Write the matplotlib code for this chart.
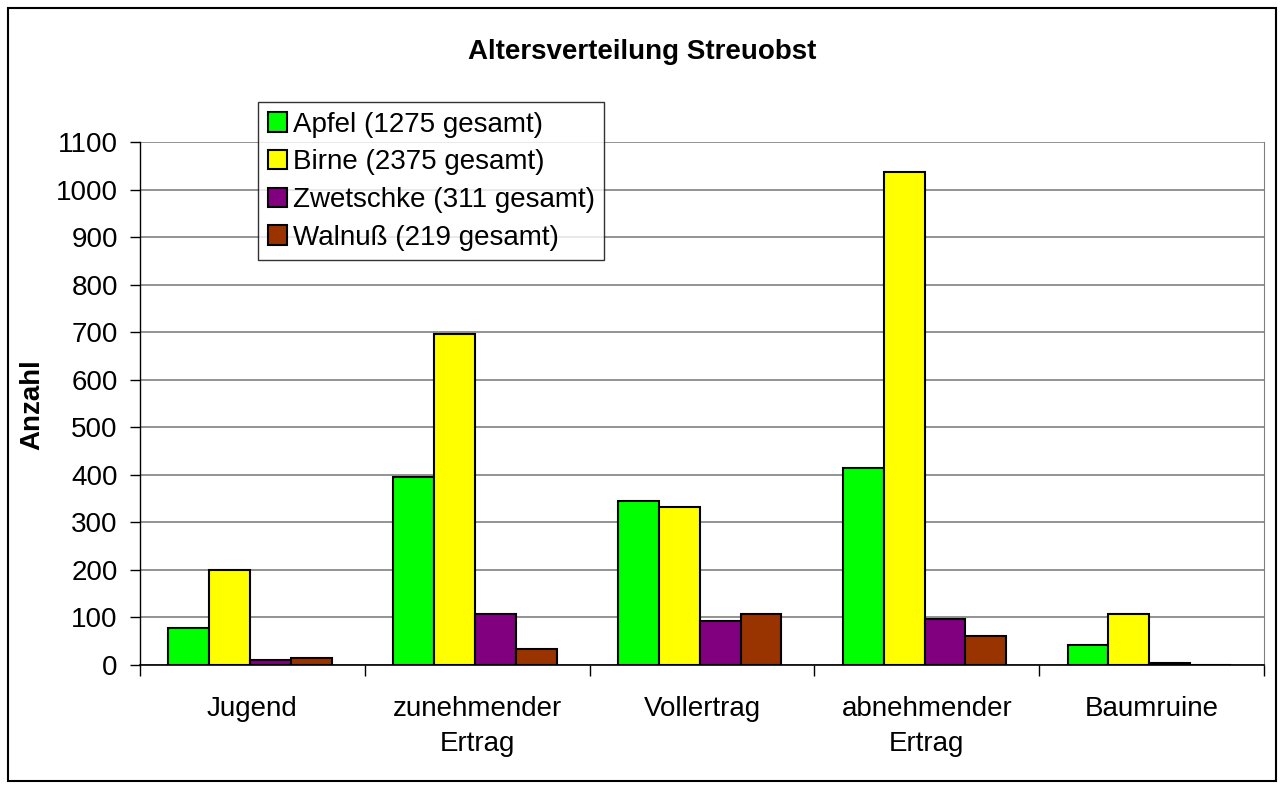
import numpy as np
import matplotlib
matplotlib.use('Agg')
import matplotlib.pyplot as plt
from matplotlib.patches import Rectangle

plt.rcParams['font.family'] = ['Liberation Sans', 'DejaVu Sans']

categories = ['Jugend', 'zunehmender\nErtrag', 'Vollertrag', 'abnehmender\nErtrag', 'Baumruine']
apfel = [78, 395, 345, 415, 42]
birne = [200, 697, 333, 1037, 108]
zwetschke = [10, 107, 92, 97, 5]
walnuss = [15, 33, 108, 62, 1]

series = [
    ('Apfel (1275 gesamt)', apfel, '#00FF00'),
    ('Birne (2375 gesamt)', birne, '#FFFF00'),
    ('Zwetschke (311 gesamt)', zwetschke, '#800080'),
    ('Walnuß (219 gesamt)', walnuss, '#993300'),
]

W, H = 1284, 789
FS = 20
fig = plt.figure(figsize=(W / 100, H / 100), dpi=100)
ax = fig.add_axes([140 / W, 1 - 665 / H, (1264 - 140) / W, (665 - 142) / H])

x = np.arange(len(categories))
bw = 1 / 5.5
for i, (name, vals, col) in enumerate(series):
    ax.bar(x + (i - 1.5) * bw - 0.01, vals, bw, color=col, edgecolor='black',
           linewidth=1.5, label=name, zorder=3)

ax.set_xlim(-0.5, len(categories) - 0.5)
ax.set_ylim(0, 1100)
ax.set_yticks(range(0, 1101, 100))
ax.yaxis.grid(True, color='#808080', linewidth=1.2, zorder=0)
ax.tick_params(axis='y', labelsize=FS, length=7, width=1, direction='out', pad=9)

# category boundaries as tick marks, labels centred
ax.set_xticks(np.arange(-0.5, len(categories) + 0.5, 1))
ax.set_xticklabels([])
ax.set_xticks(x, minor=True)
ax.set_xticklabels(categories, minor=True, fontsize=FS, linespacing=1.45)
ax.tick_params(axis='x', which='major', length=8, width=1, direction='out')
ax.tick_params(axis='x', which='minor', length=0, pad=22)

ax.spines['top'].set_visible(False)
ax.spines['right'].set_color('#808080')
ax.spines['left'].set_linewidth(1)
ax.spines['bottom'].set_linewidth(1.2)

fig.text(32 / W, 1 - 405 / H, 'Anzahl', rotation=90, ha='center', va='center',
         fontsize=FS, fontweight='bold')
fig.text(642 / W, 1 - 52 / H, 'Altersverteilung Streuobst', ha='center', va='center',
         fontsize=FS, fontweight='bold')

leg = fig.legend(loc='upper left', bbox_to_anchor=(258 / W, 1 - 102 / H),
                 fontsize=FS, frameon=True, fancybox=False, borderaxespad=0,
                 handlelength=0.7, handleheight=0.7, handletextpad=0.2,
                 labelspacing=0.42, borderpad=0.35)
leg.get_frame().set_edgecolor('black')
leg.get_frame().set_linewidth(1)

fig.patches.append(Rectangle((8 / W, 8 / H), (W - 16) / W, (H - 16) / H,
                             transform=fig.transFigure, fill=False,
                             edgecolor='black', linewidth=1.5))

fig.savefig('out.png', dpi=100)
